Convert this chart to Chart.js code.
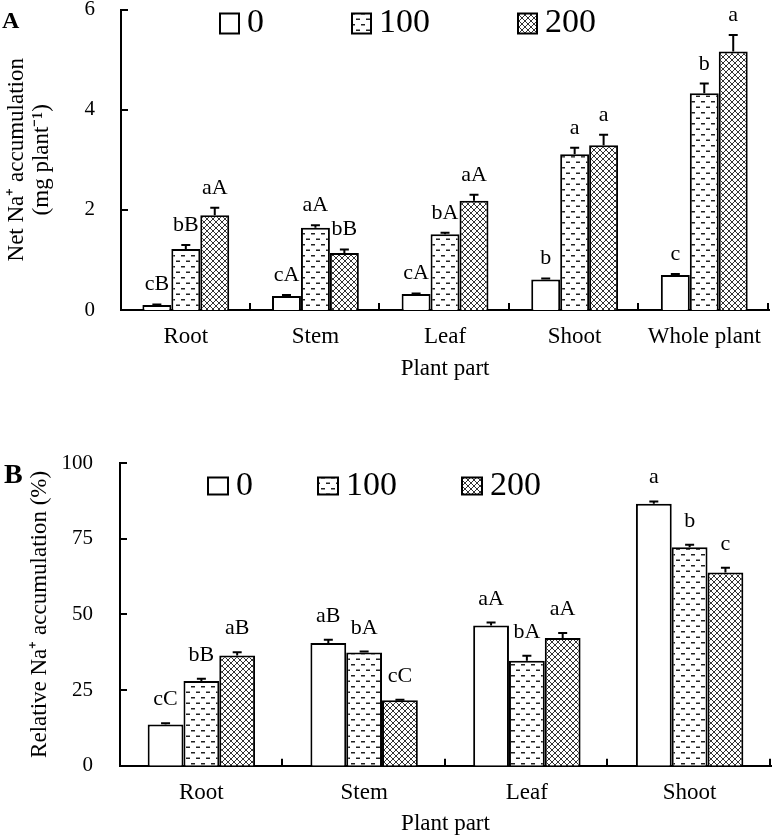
<!DOCTYPE html>
<html><head><meta charset="utf-8">
<script src="https://cdn.jsdelivr.net/npm/chart.js@4.4.0/dist/chart.umd.min.js"></script>
<style>
html,body{margin:0;padding:0;background:#fff;}
#wrap{position:relative;width:774px;height:838px;overflow:hidden;background:#fff;}
#cA{position:absolute;left:0;top:0;}
#cB{position:absolute;left:0;top:420px;}
</style></head><body>
<div id="wrap"><canvas id="cA" width="774" height="420"></canvas><canvas id="cB" width="774" height="418"></canvas></div>
<script>
// ---------- data ----------
const seriesLabels = ['0', '100', '200'];

const partsA = ['Root', 'Stem', 'Leaf', 'Shoot', 'Whole plant'];
const netNa0   = [0.10, 0.28, 0.32, 0.61, 0.70];
const netNa100 = [1.22, 1.64, 1.51, 3.11, 4.33];
const netNa200 = [1.89, 1.14, 2.18, 3.29, 5.16];
const netErr0   = [0.01, 0.02, 0.01, 0.02, 0.02];
const netErr100 = [0.08, 0.05, 0.03, 0.13, 0.19];
const netErr200 = [0.15, 0.07, 0.12, 0.21, 0.33];
const netLet0   = ['cB', 'cA', 'cA', 'b', 'c'];
const netLet100 = ['bB', 'aA', 'bA', 'a', 'b'];
const netLet200 = ['aA', 'bB', 'aA', 'a', 'a'];
const yTicksA = [0, 2, 4, 6];

const partsB = ['Root', 'Stem', 'Leaf', 'Shoot'];
const rel0   = [13.6, 40.5, 46.3, 86.5];
const rel100 = [28.0, 37.4, 34.7, 72.2];
const rel200 = [36.4, 21.6, 42.2, 63.8];
const relErr0   = [0.4, 1.1, 1.0, 0.8];
const relErr100 = [0.7, 0.3, 1.6, 0.8];
const relErr200 = [1.1, 0.2, 1.6, 1.6];
const relLet0   = ['cC', 'aB', 'aA', 'a'];
const relLet100 = ['bB', 'bA', 'bA', 'b'];
const relLet200 = ['aB', 'cC', 'aA', 'c'];
const yTicksB = [0, 25, 50, 75, 100];

// ---------- styling helpers ----------
const SERIF = "'Liberation Serif', 'Times New Roman', serif";

function dashPattern(ctx) {
  const t = document.createElement('canvas'); t.width = 10; t.height = 11;
  const c = t.getContext('2d');
  c.fillStyle = '#fff'; c.fillRect(0, 0, 10, 11);
  c.fillStyle = '#222';
  c.fillRect(1, 2, 4, 1.5);
  c.fillRect(6, 7.5, 4, 1.5);
  return ctx.createPattern(t, 'repeat');
}
function crossPattern(ctx) {
  const t = document.createElement('canvas'); t.width = 6; t.height = 6;
  const c = t.getContext('2d');
  c.fillStyle = '#fff'; c.fillRect(0, 0, 6, 6);
  c.strokeStyle = '#333'; c.lineWidth = 1;
  c.beginPath();
  c.moveTo(0, 0); c.lineTo(6, 6);
  c.moveTo(6, 0); c.lineTo(0, 6);
  c.stroke();
  return ctx.createPattern(t, 'repeat');
}

// ---------- plugins ----------
const inwardTicks = {
  id: 'inwardTicks',
  afterDraw(chart) {
    const ctx = chart.ctx, xs = chart.scales.x, ys = chart.scales.y, a = chart.chartArea;
    ctx.save();
    ctx.strokeStyle = '#000'; ctx.lineWidth = 2;
    ctx.beginPath();
    ys.ticks.forEach(t => {
      if (t.value === ys.min) return;
      const py = Math.round(ys.getPixelForValue(t.value));
      ctx.moveTo(a.left, py); ctx.lineTo(a.left + 7, py);
    });
    const n = chart.data.labels.length;
    for (let i = 0; i < n; i++) {
      const px = Math.round(xs.getPixelForValue(i + 0.5)) - 1;
      ctx.moveTo(px, a.bottom); ctx.lineTo(px, a.bottom - 7);
    }
    ctx.stroke();
    ctx.restore();
  }
};

const errLetters = {
  id: 'errLetters',
  afterDatasetsDraw(chart, args, opts) {
    const ctx = chart.ctx, ys = chart.scales.y;
    ctx.save();
    chart.data.datasets.forEach((ds, i) => {
      const meta = chart.getDatasetMeta(i);
      meta.data.forEach((bar, j) => {
        const top = ys.getPixelForValue(ds.data[j] + ds.errors[j]);
        ctx.strokeStyle = '#000'; ctx.lineWidth = 2;
        ctx.beginPath();
        ctx.moveTo(bar.x, bar.y); ctx.lineTo(bar.x, top);
        ctx.moveTo(bar.x - opts.cap, top); ctx.lineTo(bar.x + opts.cap, top);
        ctx.stroke();
        ctx.font = opts.font; ctx.fillStyle = '#000';
        ctx.textAlign = 'center'; ctx.textBaseline = 'alphabetic';
        ctx.fillText(ds.letters[j], bar.x, top - opts.offset);
      });
    });
    ctx.restore();
  }
};

const patLegend = {
  id: 'patLegend',
  afterDraw(chart, args, opts) {
    const ctx = chart.ctx;
    ctx.save();
    ctx.font = opts.font;
    let x = opts.x;
    chart.data.datasets.forEach(ds => {
      const by = opts.y - opts.boxH / 2;
      ctx.fillStyle = ds.backgroundColor;
      ctx.fillRect(x, by, opts.boxW, opts.boxH);
      ctx.lineWidth = 2; ctx.strokeStyle = '#000';
      ctx.strokeRect(x, by, opts.boxW, opts.boxH);
      ctx.fillStyle = '#000'; ctx.textAlign = 'left'; ctx.textBaseline = 'middle';
      const tx = x + opts.boxW + opts.textGap;
      ctx.fillText(ds.label, tx, opts.y);
      x = tx + ctx.measureText(ds.label).width + opts.gap;
    });
    ctx.restore();
  }
};

const panelLabel = {
  id: 'panelLabel',
  afterDraw(chart, args, opts) {
    const ctx = chart.ctx;
    ctx.save();
    ctx.font = opts.font; ctx.fillStyle = '#000';
    ctx.textAlign = 'left'; ctx.textBaseline = 'alphabetic';
    ctx.fillText(opts.text, opts.x, opts.y);
    ctx.restore();
  }
};

function makeChart(canvas, cfg) {
  const ctx = canvas.getContext('2d');
  const fills = ['#ffffff', dashPattern(ctx), crossPattern(ctx)];
  return new Chart(ctx, {
    type: 'bar',
    data: {
      labels: cfg.labels,
      datasets: cfg.series.map((s, i) => ({
        label: seriesLabels[i],
        data: s.values,
        errors: s.errors,
        letters: s.letters,
        backgroundColor: fills[i],
        borderColor: '#000',
        borderWidth: 2,
        borderSkipped: 'start',
        barPercentage: 1.0,
        categoryPercentage: cfg.catPct
      }))
    },
    options: {
      responsive: false,
      animation: false,
      devicePixelRatio: 1,
      layout: { padding: cfg.padding },
      scales: {
        x: {
          type: 'category',
          offset: true,
          grid: { display: false, drawTicks: false },
          border: { display: true, color: '#000', width: 2 },
          ticks: { color: '#000', padding: cfg.xTickPad, font: { family: SERIF, size: 23, lineHeight: 1.2 }, maxRotation: 0, autoSkip: false },
          title: { display: true, text: 'Plant part', color: '#000', font: { family: SERIF, size: 23, lineHeight: 1.2 }, padding: { top: 0, bottom: cfg.xTitlePadBottom } },
          afterFit: s => { s.height = cfg.xHeight; }
        },
        y: {
          min: cfg.yMin, max: cfg.yMax,
          grid: { display: false, drawTicks: false },
          border: { display: true, color: '#000', width: 2 },
          afterBuildTicks: s => { s.ticks = cfg.yTicks.map(v => ({ value: v })); },
          ticks: { color: '#000', padding: cfg.yTickPad, font: { family: SERIF, size: 21, lineHeight: 0.9 } },
          title: { display: true, text: cfg.yTitle, color: '#000', font: { family: SERIF, size: 23, lineHeight: cfg.yTitleLH }, padding: { top: cfg.yTitlePadTop, bottom: 0 } },
          afterFit: s => { s.width = cfg.yWidth; s.paddingTop = 0; s.paddingBottom = 0; }
        }
      },
      plugins: {
        legend: { display: false },
        tooltip: { enabled: false },
        errLetters: { cap: 4.5, offset: cfg.letterOffset, font: '22px ' + SERIF },
        patLegend: cfg.legend,
        panelLabel: cfg.panel
      }
    },
    plugins: [inwardTicks, errLetters, patLegend, panelLabel]
  });
}

makeChart(document.getElementById('cA'), {
  labels: partsA,
  series: [
    { values: netNa0, errors: netErr0, letters: netLet0 },
    { values: netNa100, errors: netErr100, letters: netLet100 },
    { values: netNa200, errors: netErr200, letters: netLet200 }
  ],
  catPct: 0.67,
  padding: { top: 9.5, right: 2, left: 0, bottom: 0 },
  xTickPad: 13, xTitlePadBottom: 37, xHeight: 110,
  yMin: 0, yMax: 6, yTicks: yTicksA, yTickPad: 26, yWidth: 121,
  yTitle: ['Net Na\u207A accumulation', '(mg plant\u207B\u00B9)'], yTitleLH: 1.09, yTitlePadTop: 4.5,
  letterOffset: 14,
  legend: { x: 220, y: 23.5, boxW: 19, boxH: 20, textGap: 8, gap: 88, font: '34px ' + SERIF },
  panel: { text: 'A', x: 2, y: 28, font: 'bold 24px ' + SERIF }
});

makeChart(document.getElementById('cB'), {
  labels: partsB,
  series: [
    { values: rel0, errors: relErr0, letters: relLet0 },
    { values: rel100, errors: relErr100, letters: relLet100 },
    { values: rel200, errors: relErr200, letters: relLet200 }
  ],
  catPct: 0.66,
  padding: { top: 43, right: 3, left: 0, bottom: 0 },
  xTickPad: 13, xTitlePadBottom: 0, xHeight: 72.3,
  yMin: 0, yMax: 100, yTicks: yTicksB, yTickPad: 27, yWidth: 120,
  yTitle: 'Relative Na\u207A accumulation (%)', yTitleLH: 1.2, yTitlePadTop: 26,
  letterOffset: 18,
  legend: { x: 208, y: 66, boxW: 20, boxH: 17, textGap: 8, gap: 65, font: '34px ' + SERIF },
  panel: { text: 'B', x: 4, y: 63, font: 'bold 28px ' + SERIF }
});
</script>
</body></html>
